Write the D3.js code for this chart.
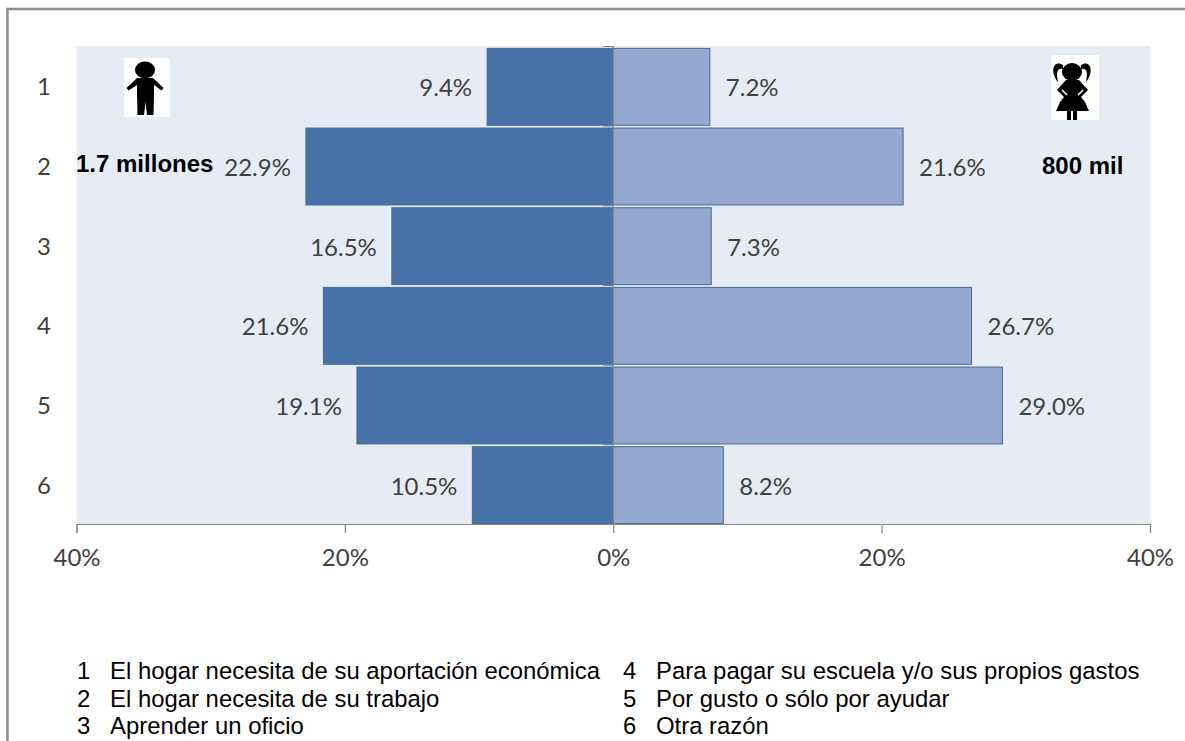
<!DOCTYPE html>
<html>
<head>
<meta charset="utf-8">
<script src="https://cdn.jsdelivr.net/npm/d3@7"></script>
<style>
  html, body { margin: 0; padding: 0; background: #fff; overflow: hidden; }
  svg { display: block; }
  .num { font-family: Lato, "Open Sans", sans-serif; font-size: 24px; fill: #404040; }
  .note { font-family: "Liberation Sans", Arial, sans-serif; font-size: 23.9px; fill: #000; }
  .big { font-family: "Liberation Sans", Arial, sans-serif; font-size: 24px; font-weight: bold; fill: #000; }
</style>
</head>
<body>
<div class="chart"></div>
<script>
var categories = ["1", "2", "3", "4", "5", "6"];
var hombres = [9.4, 22.9, 16.5, 21.6, 19.1, 10.5];
var mujeres = [7.2, 21.6, 7.3, 26.7, 29.0, 8.2];
var xTicks = [-40, -20, 0, 20, 40];
var razones = [
  "El hogar necesita de su aportación económica",
  "El hogar necesita de su trabajo",
  "Aprender un oficio",
  "Para pagar su escuela y/o sus propios gastos",
  "Por gusto o sólo por ayudar",
  "Otra razón"
];
var totalHombres = "1.7 millones";
var totalMujeres = "800 mil";

var svg = d3.select(".chart").append("svg")
  .attr("width", 1185)
  .attr("height", 741);

// marco gris, se corta por la derecha y por abajo
svg.append("path")
  .attr("d", "M7.500,741V9H1185")
  .attr("fill", "none")
  .attr("stroke", "#8c8c8c")
  .attr("stroke-width", 2.5);

var x = d3.scaleLinear().domain([-40, 40]).range([76.5, 1150]);
var y = d3.scaleBand().domain(categories).range([47, 525]).paddingInner(0.035).paddingOuter(0.0175);

svg.append("rect")
  .attr("x", x(-40))
  .attr("y", 46)
  .attr("width", x(40) - x(-40))
  .attr("height", 478)
  .attr("fill", "#e7ebf3");

// marcas del eje vertical, entre categorias
var step = y.step();
svg.selectAll(".ymark")
  .data(d3.range(7))
  .enter()
  .append("line")
  .attr("class", "ymark")
  .attr("x1", x(0) - 10)
  .attr("x2", x(0))
  .attr("y1", function(d){return 46.5 + d * step})
  .attr("y2", function(d){return 46.5 + d * step})
  .attr("stroke", "#868686");

svg.selectAll(".barL")
  .data(hombres)
  .enter()
  .append("rect")
  .attr("class", "barL")
  .attr("x", function(d){return x(-d)})
  .attr("y", function(d, i){return y(categories[i])})
  .attr("width", function(d){return x(0) - x(-d)})
  .attr("height", y.bandwidth())
  .attr("fill", "#4672a8")
  .attr("stroke", "#41699c");

svg.selectAll(".barR")
  .data(mujeres)
  .enter()
  .append("rect")
  .attr("class", "barR")
  .attr("x", x(0))
  .attr("y", function(d, i){return y(categories[i])})
  .attr("width", function(d){return x(d) - x(0)})
  .attr("height", y.bandwidth())
  .attr("fill", "#95a9d0")
  .attr("stroke", "#45699a");

// eje central encima de las barras
svg.append("line")
  .attr("x1", x(0)).attr("x2", x(0))
  .attr("y1", 46).attr("y2", 524)
  .attr("stroke", "#868686")
  .attr("stroke-width", 1.2);

var axis = d3.axisBottom(x)
  .tickValues(xTicks)
  .tickSize(9)
  .tickPadding(16)
  .tickFormat(function(d){return Math.abs(d) + "%"});

var gx = svg.append("g")
  .attr("transform", "translate(0,524)")
  .call(axis);
gx.select(".domain").attr("stroke", "#868686").attr("stroke-width", 1.2);
gx.selectAll(".tick line").attr("stroke", "#868686").attr("stroke-width", 1.2);
gx.selectAll(".tick text")
  .attr("class", "num")
  .attr("fill", null);

svg.selectAll(".cat")
  .data(categories)
  .enter()
  .append("text")
  .attr("class", "num cat")
  .attr("x", 44)
  .attr("y", function(d){return y(d) + y.bandwidth() / 2})
  .attr("dy", "0.35em")
  .attr("text-anchor", "middle")
  .text(function(d){return d});

svg.selectAll(".lblL")
  .data(hombres)
  .enter()
  .append("text")
  .attr("class", "num lblL")
  .attr("x", function(d){return x(-d) - 15})
  .attr("y", function(d, i){return y(categories[i]) + y.bandwidth() / 2 + 1})
  .attr("dy", "0.35em")
  .attr("text-anchor", "end")
  .text(function(d){return d.toFixed(1) + "%"});

svg.selectAll(".lblR")
  .data(mujeres)
  .enter()
  .append("text")
  .attr("class", "num lblR")
  .attr("x", function(d){return x(d) + 16})
  .attr("y", function(d, i){return y(categories[i]) + y.bandwidth() / 2 + 1})
  .attr("dy", "0.35em")
  .text(function(d){return d.toFixed(1) + "%"});

svg.append("text").attr("class", "big").attr("x", 76).attr("y", 172).text(totalHombres);
svg.append("text").attr("class", "big").attr("x", 1042).attr("y", 174).text(totalMujeres);

// iconos
var nino = svg.append("g");
nino.append("rect").attr("x", 124).attr("y", 58).attr("width", 46).attr("height", 59).attr("fill", "#fff");
nino.append("ellipse").attr("cx", 145).attr("cy", 70).attr("rx", 10).attr("ry", 8.5);
nino.append("path").attr("d", "M126.500,88L137,78H153L163.500,88L161.500,90.500L154,85V94L153.500,115H147L145.500,102L144,115H137.500L137,94V85L128.500,90.500Z");

var nina = svg.append("g");
nina.append("rect").attr("x", 1051).attr("y", 55).attr("width", 48).attr("height", 65).attr("fill", "#fff");
nina.append("ellipse").attr("cx", 1072).attr("cy", 72).attr("rx", 10).attr("ry", 9);
nina.append("path").attr("d", "M1063,65C1054,59 1049,71 1058,82C1056,72 1057,68 1063,69Z");
nina.append("path").attr("d", "M1081,65C1090,59 1095,71 1086,82C1088,72 1087,68 1081,69Z");
nina.append("path").attr("d", "M1066,80H1079L1088,90L1081,97L1085,102L1089,111H1056L1060,102L1064,97L1057,90Z");
nina.append("path").attr("d", "M1062,90L1067,95M1083,90L1078,95").attr("stroke", "#fff").attr("stroke-width", 1.5);
nina.append("rect").attr("x", 1067).attr("y", 111).attr("width", 4).attr("height", 9);
nina.append("rect").attr("x", 1073).attr("y", 111).attr("width", 4).attr("height", 9);

// lista de razones, dos columnas de tres
var notes = svg.selectAll(".nota")
  .data(razones)
  .enter()
  .append("g")
  .attr("class", "nota")
  .attr("transform", function(d, i){
    return "translate(" + (i < 3 ? 77 : 623) + "," + (679 + (i % 3) * 27.5) + ")";
  });
notes.append("text").attr("class", "note").text(function(d, i){return categories[i]});
notes.append("text").attr("class", "note").attr("x", 33).text(function(d){return d});
</script>
</body>
</html>
